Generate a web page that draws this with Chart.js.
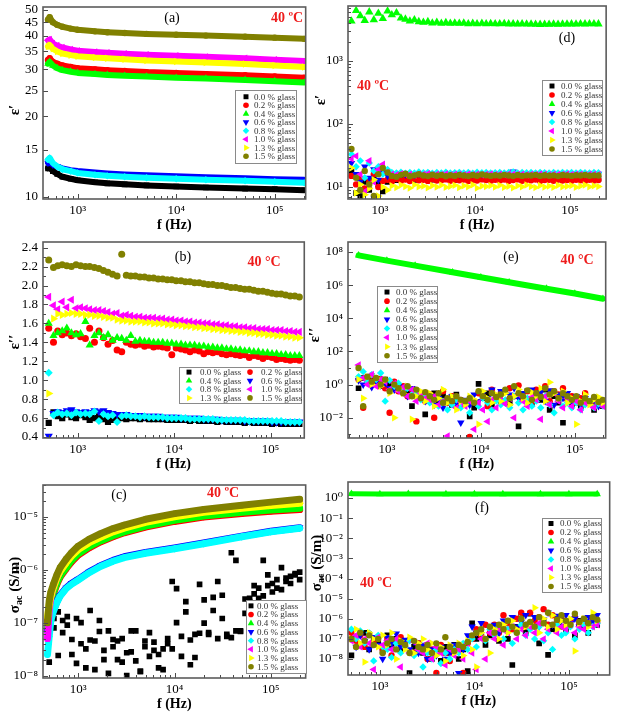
<!DOCTYPE html>
<html>
<head>
<meta charset="utf-8">
<script src="https://cdn.jsdelivr.net/npm/chart.js@4.4.1/dist/chart.umd.min.js"></script>
<style>
  body { margin: 0; background: #fff; }
  #wrap { position: relative; width: 618px; height: 714px; overflow: hidden; background: #fff; }
  canvas { position: absolute; }
</style>
</head>
<body>
<div id="wrap">
  <canvas id="pa"></canvas>
  <canvas id="pb"></canvas>
  <canvas id="pc"></canvas>
  <canvas id="pd"></canvas>
  <canvas id="pe"></canvas>
  <canvas id="pf"></canvas>
</div>
<script>
// series names (legend order)
const series = ['0.0 % glass', '0.2 % glass', '0.4 % glass', '0.6 % glass', '0.8 % glass', '1.0 % glass', '1.3 % glass', '1.5 % glass'];
const colors = ['#000000', '#ff0000', '#00ff00', '#0000ff', '#00ffff', '#ff00ff', '#ffff00', '#808000'];
const shapes = ['rect', 'circle', 'triangle', 'triangle', 'rectRot', 'triangle', 'triangle', 'circle'];
const turns = [0, 0, 0, 180, 0, 270, 90, 0];
// marker scale per shape so they look the same size
const shapeScale = { rect: 1.25, circle: 1.0, triangle: 1.35, rectRot: 1.15 };

// frequency grids (Hz)
const freq = [500, 560, 620, 690, 770, 860, 960, 1070,
  1200, 1330, 1490, 1660, 1850, 2060, 2300, 2560,
  2860, 3190, 3550, 3960, 4420, 4930, 5490, 6120,
  6830, 7610, 8490, 9460, 10500, 11800, 13100, 14600,
  16300, 18200, 20300, 22600, 25200, 28100, 31300, 34900,
  38900, 43400, 48400, 54000, 60200, 67100, 74800, 83400,
  93000, 103700, 115600, 128900, 143700, 160200, 178600, 199200];
const freqA = [500, 520, 560, 620, 700, 850, 1000, 1500, 2000, 3000, 5000, 10000, 20000, 50000, 100000, 199200];
const freqC = [480, 500, 520, 550, 600, 650, 750, 850, 1000, 1300, 1700, 2300, 3000, 5000, 10000, 20000, 50000, 100000, 199200];
const freqG = [500, 1000, 2000, 5000, 10000, 20000, 50000, 100000, 199200];

// (a) eps' on freqA
const a00 = [12.8, 12.9, 12.5, 12.2, 11.9, 11.7, 11.55, 11.35, 11.25, 11.15, 11.05, 10.95, 10.85, 10.75, 10.7, 10.6];
const a02 = [32.5, 33, 32, 31.5, 31, 30.6, 30.3, 30.0, 29.8, 29.6, 29.3, 29.1, 28.8, 28.5, 28.2, 27.9];
const a04 = [31.5, 32, 31, 30.3, 29.8, 29.4, 29.1, 28.8, 28.6, 28.4, 28.2, 27.9, 27.7, 27.4, 27.1, 26.8];
const a06 = [13.4, 13.5, 13.2, 13.0, 12.8, 12.6, 12.5, 12.35, 12.25, 12.15, 12.05, 11.95, 11.85, 11.75, 11.65, 11.6];
const a08 = [13.8, 14.0, 13.4, 13.0, 12.7, 12.5, 12.3, 12.1, 12.0, 11.9, 11.8, 11.7, 11.6, 11.5, 11.4, 11.3];
const a10 = [38.5, 38.8, 37.5, 36.8, 36.2, 35.6, 35.2, 34.8, 34.6, 34.3, 34.0, 33.7, 33.4, 33.0, 32.6, 32.2];
const a13 = [36.5, 37, 35.8, 35, 34.4, 33.9, 33.6, 33.2, 33.0, 32.7, 32.4, 32.1, 31.8, 31.4, 31.0, 30.6];
const a15 = [46, 47, 45, 44, 43.3, 42.6, 42.2, 41.6, 41.3, 41, 40.7, 40.4, 40.1, 39.7, 39.4, 39.0];

// (b) eps'' on freq
const b00 = [0.55, 0.66, 0.62, 0.6, 0.64, 0.61, 0.6, 0.63,
  0.61, 0.58, 0.6, 0.62, 0.59, 0.56, 0.58, 0.6,
  0.6, 0.59, 0.6, 0.6, 0.59, 0.6, 0.59, 0.59,
  0.59, 0.59, 0.58, 0.58, 0.58, 0.58, 0.58, 0.57,
  0.58, 0.57, 0.57, 0.57, 0.57, 0.56, 0.57, 0.56,
  0.56, 0.56, 0.56, 0.55, 0.56, 0.55, 0.55, 0.55,
  0.55, 0.54, 0.55, 0.54, 0.54, 0.54, 0.54, 0.54];
const b02 = [1.55, 1.4, 1.52, 1.48, 1.5, 1.47, 1.49, 1.46,
  1.44, 1.55, 1.4, 1.52, 1.45, 1.38, 1.42, 1.32,
  1.3, 1.4, 1.38, 1.37, 1.38, 1.36, 1.37, 1.35,
  1.36, 1.35, 1.34, 1.27, 1.34, 1.33, 1.32, 1.3,
  1.32, 1.31, 1.28, 1.3, 1.29, 1.3, 1.28, 1.27,
  1.28, 1.27, 1.26, 1.27, 1.24, 1.26, 1.25, 1.23,
  1.25, 1.24, 1.22, 1.23, 1.22, 1.21, 1.22, 1.21];
const b04 = [1.6, 1.47, 1.5, 1.52, 1.55, 1.5, 1.48, 1.49,
  1.62, 1.37, 1.47, 1.5, 1.45, 1.48, 1.42, 1.45,
  1.44, 1.42, 1.47, 1.41, 1.42, 1.41, 1.41, 1.4,
  1.4, 1.4, 1.39, 1.39, 1.38, 1.38, 1.37, 1.37,
  1.37, 1.36, 1.36, 1.35, 1.35, 1.34, 1.34, 1.33,
  1.33, 1.32, 1.32, 1.31, 1.31, 1.3, 1.3, 1.29,
  1.29, 1.28, 1.28, 1.27, 1.27, 1.26, 1.26, 1.26];
const b06 = [0.41, 0.65, 0.67, 0.66, 0.68, 0.69, 0.67, 0.66,
  0.67, 0.66, 0.68, 0.67, 0.68, 0.66, 0.65, 0.64,
  0.64, 0.64, 0.63, 0.63, 0.63, 0.62, 0.62, 0.62,
  0.62, 0.61, 0.61, 0.61, 0.61, 0.6, 0.6, 0.6,
  0.6, 0.6, 0.59, 0.59, 0.59, 0.59, 0.58, 0.58,
  0.58, 0.58, 0.58, 0.57, 0.57, 0.57, 0.57, 0.57,
  0.57, 0.56, 0.56, 0.56, 0.56, 0.56, 0.56, 0.56];
const b08 = [1.08, 0.63, 0.66, 0.64, 0.65, 0.63, 0.66, 0.64,
  0.65, 0.64, 0.67, 0.57, 0.64, 0.62, 0.63, 0.56,
  0.62, 0.63, 0.62, 0.62, 0.61, 0.62, 0.61, 0.61,
  0.61, 0.61, 0.6, 0.6, 0.6, 0.6, 0.6, 0.59,
  0.59, 0.59, 0.59, 0.59, 0.59, 0.58, 0.58, 0.58,
  0.58, 0.58, 0.58, 0.58, 0.57, 0.57, 0.57, 0.57,
  0.57, 0.57, 0.57, 0.57, 0.56, 0.56, 0.56, 0.56];
const b10 = [1.88, 1.79, 1.75, 1.83, 1.77, 1.85, 1.76, 1.77,
  1.76, 1.75, 1.74, 1.74, 1.73, 1.72, 1.7, 1.71,
  1.68, 1.69, 1.68, 1.67, 1.67, 1.66, 1.66, 1.66,
  1.65, 1.65, 1.64, 1.64, 1.63, 1.63, 1.62, 1.62,
  1.61, 1.61, 1.6, 1.6, 1.59, 1.59, 1.58, 1.58,
  1.57, 1.57, 1.56, 1.56, 1.55, 1.55, 1.54, 1.54,
  1.54, 1.53, 1.53, 1.53, 1.52, 1.52, 1.51, 1.51];
const b13 = [0.86, 1.65, 1.7, 1.69, 1.7, 1.71, 1.7, 1.7,
  1.69, 1.69, 1.68, 1.68, 1.67, 1.66, 1.66, 1.64,
  1.63, 1.63, 1.62, 1.62, 1.62, 1.61, 1.61, 1.6,
  1.6, 1.6, 1.59, 1.59, 1.58, 1.58, 1.57, 1.57,
  1.56, 1.56, 1.55, 1.55, 1.54, 1.54, 1.53, 1.53,
  1.52, 1.52, 1.51, 1.51, 1.5, 1.5, 1.49, 1.49,
  1.48, 1.48, 1.47, 1.47, 1.46, 1.46, 1.45, 1.45];
const b15 = [2.27, 2.19, 2.21, 2.22, 2.21, 2.2, 2.22, 2.21,
  2.2, 2.2, 2.19, 2.18, 2.16, 2.14, 2.12, 2.1,
  2.33, 2.11, 2.1, 2.1, 2.09, 2.09, 2.08, 2.08,
  2.07, 2.07, 2.06, 2.06, 2.05, 2.05, 2.04, 2.04,
  2.03, 2.03, 2.02, 2.01, 2.01, 2.0, 2.0, 1.99,
  1.98, 1.98, 1.97, 1.96, 1.96, 1.95, 1.94, 1.94,
  1.93, 1.92, 1.91, 1.91, 1.9, 1.89, 1.89, 1.88];

// (c) sigma_ac; 0.0 % scatter on freq (two sweeps), others on freqC
const c00a = [1.8e-8, 8e-8, 1.6e-7, 1.1e-7, 9e-8, 2.5e-8, 1.2e-7, 4e-8,
  1.4e-8, 1.7e-7, 4.5e-8, 1.1e-7, 3e-8, 7e-8, 4.8e-8, 2e-8,
  5e-8, 1e-8, 2.8e-8, 7e-8, 1.2e-8, 4.5e-8, 6.5e-8, 3e-8,
  1.4e-8, 3.2e-8, 5e-8, 6e-7, 4.4e-7, 5.5e-8, 2.5e-7, 1.6e-8,
  6e-8, 5.3e-7, 2.7e-7, 6e-8, 3e-7, 6e-7, 1.2e-7, 6e-8,
  2.1e-6, 1.5e-6, 7e-8, 2.8e-7, 2.9e-7, 5e-7, 2.9e-7, 1.5e-6,
  8e-7, 5.5e-7, 4.5e-7, 1.1e-6, 6e-7, 7.5e-7, 8.5e-7, 9e-7];
const c00b = [1.6e-7, 1.2e-7, 2.4e-8, 6.5e-8, 1.3e-7, 4.8e-8, 1.7e-8, 1.0e-7,
  3.2e-8, 4.7e-8, 1.3e-8, 6.8e-8, 2e-8, 1.1e-8, 3.5e-8, 4.5e-8,
  1.8e-8, 2.7e-8, 7e-8, 1.9e-8, 1.2e-8, 3.5e-8, 2.3e-8, 4.3e-8,
  2.5e-8, 1.3e-8, 4e-8, 3.2e-8, 1e-7, 2.3e-8, 1.6e-7, 4.7e-8,
  2.2e-8, 6.3e-8, 9.8e-8, 6.5e-8, 1.7e-7, 5e-8, 3.3e-7, 5.5e-8,
  5.2e-8, 7e-8, 6.8e-8, 1.5e-7, 2.5e-7, 3.5e-7, 4.5e-7, 3.2e-7,
  5e-7, 3.8e-7, 6.5e-7, 4.2e-7, 7e-7, 5.5e-7, 8e-7, 6.5e-7];
const c02 = [1.1e-7, 1.5e-7, 2.3e-7, 3.4e-7, 5.3e-7, 7.3e-7, 1.05e-6, 1.4e-6, 1.9e-6, 2.6e-6, 3.35e-6, 4.2e-6, 5.0e-6, 6.4e-6, 8.2e-6, 9.9e-6, 1.16e-5, 1.28e-5, 1.37e-5];
const c04 = [8e-8, 1.6e-7, 2.5e-7, 3.6e-7, 5.6e-7, 7.7e-7, 1.1e-6, 1.5e-6, 2.0e-6, 2.75e-6, 3.5e-6, 4.4e-6, 5.2e-6, 6.7e-6, 8.6e-6, 1.04e-5, 1.22e-5, 1.35e-5, 1.45e-5];
const c06 = [7e-8, 8e-8, 1.15e-7, 1.65e-7, 2.5e-7, 3.3e-7, 4.55e-7, 5.5e-7, 6.6e-7, 9.1e-7, 1.19e-6, 1.5e-6, 1.76e-6, 2.12e-6, 2.58e-6, 3.2e-6, 4.33e-6, 5.35e-6, 6.25e-6];
const c08 = [2.5e-8, 5.5e-8, 1.1e-7, 1.6e-7, 2.4e-7, 3.2e-7, 4.4e-7, 5.3e-7, 6.4e-7, 8.8e-7, 1.15e-6, 1.45e-6, 1.7e-6, 2.05e-6, 2.5e-6, 3.1e-6, 4.2e-6, 5.2e-6, 6.1e-6];
const c10 = [5e-8, 1.8e-7, 3.0e-7, 4.4e-7, 7.0e-7, 9.5e-7, 1.4e-6, 1.85e-6, 2.5e-6, 3.4e-6, 4.3e-6, 5.4e-6, 6.4e-6, 8.3e-6, 1.06e-5, 1.28e-5, 1.52e-5, 1.72e-5, 1.9e-5];
const c13 = [1.3e-7, 2.2e-7, 3.2e-7, 4.5e-7, 7.0e-7, 9.4e-7, 1.35e-6, 1.8e-6, 2.4e-6, 3.25e-6, 4.1e-6, 5.2e-6, 6.1e-6, 7.9e-6, 1.0e-5, 1.22e-5, 1.45e-5, 1.63e-5, 1.8e-5];
const c15 = [1.0e-7, 2.6e-7, 3.8e-7, 5.2e-7, 8.0e-7, 1.1e-6, 1.6e-6, 2.1e-6, 2.8e-6, 3.8e-6, 4.8e-6, 6.0e-6, 7.0e-6, 9.0e-6, 1.15e-5, 1.38e-5, 1.65e-5, 1.9e-5, 2.15e-5];

// (d) eps' on freq
const d00 = [18, 8, 7.2, 12, 9, 14, 11, 8.5,
  12, 13.5, 12.8, 13.2, 14, 13.4, 12.9, 13.6,
  13.3, 13.8, 13.1, 13.5, 13.2, 13.7, 13.4, 13.0,
  13.6, 13.3, 13.8, 13.2, 13.5, 13.4, 13.7, 13.1,
  13.5, 13.2, 13.6, 13.4, 13.3, 13.8, 13.2, 13.5,
  13.4, 13.6, 13.1, 13.5, 13.3, 13.7, 13.2, 13.4,
  13.6, 13.3, 13.5, 13.2, 13.4, 13.6, 13.3, 13.5];
const d02 = [15, 11, 13.5, 9.5, 12, 16, 10, 12.5,
  13, 12.2, 13.4, 12.6, 13.1, 12.4, 13.5, 12.8,
  13.0, 12.5, 13.3, 12.7, 12.9, 13.2, 12.6, 13.0,
  12.8, 13.1, 12.5, 13.0, 12.7, 13.2, 12.9, 12.6,
  13.0, 12.7, 13.1, 12.5, 12.9, 13.2, 12.6, 13.0,
  12.8, 13.1, 12.4, 12.9, 13.0, 12.6, 13.1, 12.7,
  12.9, 12.6, 13.0, 12.8, 12.5, 13.0, 12.7, 12.9];
const d04 = [4300, 6300, 5200, 4400, 6000, 4500, 5700, 4700,
  6200, 5400, 5800, 4800, 4600, 4300, 4500, 4200,
  4100, 4200, 4000, 4100, 3950, 4050, 3950, 4000,
  3950, 4000, 3900, 3950, 3900, 3950, 3880, 3920,
  3900, 3880, 3920, 3870, 3900, 3850, 3880, 3860,
  3850, 3820, 3800, 3830, 3810, 3850, 3820, 3840,
  3850, 3870, 3860, 3880, 3870, 3890, 3880, 3870];
const d06 = [24, 16, 12, 21, 14, 19, 13, 17,
  15, 16.2, 15.4, 16.5, 15.8, 16.1, 15.6, 16.3,
  16.0, 15.7, 16.4, 15.9, 16.2, 15.8, 16.1, 16.4,
  15.9, 16.3, 16.0, 15.8, 16.2, 16.0, 16.4, 15.9,
  16.1, 15.8, 16.3, 16.0, 17.5, 16.2, 15.9, 16.1,
  16.0, 16.3, 15.8, 16.1, 16.2, 15.9, 16.3, 16.0,
  16.2, 15.9, 16.1, 16.3, 16.0, 16.2, 15.9, 16.1];
const d08 = [33, 21, 26, 14, 24, 18, 21, 16,
  19, 17, 16.8, 17.2, 16.5, 17.0, 16.7, 17.3,
  16.9, 17.1, 16.6, 17.0, 16.8, 17.2, 16.7, 16.9,
  17.1, 16.8, 17.0, 16.6, 17.2, 16.9, 17.0, 16.7,
  16.9, 17.1, 16.8, 17.0, 17.3, 16.8, 17.0, 16.9,
  17.0, 16.8, 17.1, 16.9, 16.7, 17.0, 16.8, 17.1,
  16.9, 17.0, 16.8, 17.1, 16.9, 16.8, 17.0, 16.9];
const d10 = [28, 31, 16, 8.5, 26, 12, 19, 23,
  17, 16, 15.6, 16.2, 15.8, 16.0, 15.5, 16.1,
  15.9, 16.2, 15.7, 16.0, 15.8, 16.1, 15.6, 15.9,
  16.0, 15.7, 16.1, 15.8, 16.0, 15.6, 15.9, 16.1,
  15.8, 16.0, 15.7, 16.1, 15.9, 15.8, 16.0, 15.7,
  16.0, 15.8, 16.1, 15.9, 15.7, 16.0, 15.8, 15.9,
  16.1, 15.8, 16.0, 15.9, 15.7, 16.0, 15.9, 15.8];
const d13 = [20, 8, 11, 7.5, 9.5, 13, 7.2, 10,
  9, 10.5, 9.8, 10.8, 10.2, 9.6, 10.9, 10.1,
  10.4, 9.7, 10.6, 10.0, 10.8, 9.9, 10.3, 10.7,
  9.8, 10.5, 10.1, 10.9, 9.6, 10.4, 10.2, 10.6,
  10.0, 10.7, 9.9, 10.3, 9.7, 10.5, 10.1, 10.8,
  10.2, 9.8, 10.6, 10.0, 10.4, 9.9, 10.7, 10.1,
  10.3, 10.6, 9.9, 10.4, 10.8, 10.1, 10.5, 10.2];
const d15 = [40, 14, 9, 18, 11, 7.2, 16, 20,
  17, 15, 14.5, 15.6, 16.2, 14.8, 15.3, 15.9,
  15.2, 14.9, 15.7, 15.1, 15.5, 14.8, 15.4, 15.0,
  15.6, 15.2, 14.9, 15.5, 15.1, 15.8, 15.3, 15.0,
  15.4, 15.1, 15.6, 15.2, 14.9, 15.5, 15.0, 15.3,
  15.2, 15.6, 15.0, 15.4, 15.1, 15.3, 14.9, 15.5,
  15.3, 15.0, 15.4, 15.2, 15.5, 15.1, 15.3, 15.2];

// (e) eps''; 0.4 % on freqG, others on freq
const e04 = [6.2e7, 3.0e7, 1.5e7, 6.0e6, 3.0e6, 1.5e6, 6.1e5, 3.1e5, 1.5e5];
const e00 = [0.6, 2.5, 1.5, 3.0, 1.2, 0.8, 2.0, 1.0,
  0.9, 0.5, 0.7, 0.3, 0.05, 0.4, 0.2, 0.016,
  0.15, 0.3, 0.08, 0.2, 0.12, 0.06, 0.25, 0.1,
  0.08, 0.012, 0.04, 1.1, 0.15, 0.3, 0.06, 0.2,
  0.1, 0.35, 0.08, 0.2, 0.003, 0.15, 0.4, 0.07,
  0.25, 0.12, 0.5, 0.03, 0.2, 0.08, 0.005, 0.15,
  0.06, 0.12, 0.04, 0.1, 0.08, 0.03, 0.09, 0.05];
const e02 = [2.0, 0.04, 1.5, 3.5, 1.2, 2.2, 0.6, 0.02,
  1.5, 0.4, 0.8, 0.2, 0.5, 0.006, 0.3, 0.1,
  0.25, 0.01, 0.15, 0.4, 0.08, 0.2, 0.05, 0.12,
  0.07, 0.0007, 0.1, 0.3, 0.2, 0.05, 0.5, 0.15,
  0.3, 0.1, 0.6, 0.2, 0.9, 0.15, 0.4, 0.1,
  0.5, 0.2, 0.8, 0.1, 0.4, 0.25, 0.6, 0.12,
  0.2, 0.08, 0.15, 0.3, 0.1, 0.05, 0.12, 0.07];
const e06 = [1.8, 1.0, 2.5, 0.7, 1.5, 0.9, 1.2, 0.6,
  0.5, 0.8, 0.35, 0.2, 0.6, 0.15, 0.3, 0.1,
  0.2, 0.06, 0.15, 0.04, 0.1, 0.2, 0.07, 0.005,
  0.12, 0.06, 0.25, 0.1, 0.3, 0.15, 0.5, 0.2,
  0.4, 0.08, 0.25, 0.6, 0.15, 0.3, 0.1, 0.5,
  0.2, 0.35, 0.1, 0.45, 0.06, 0.25, 0.15, 0.3,
  0.1, 0.2, 0.06, 0.15, 0.08, 0.12, 0.05, 0.1];
const e08 = [3.0, 6.0, 1.5, 4.0, 2.0, 5.0, 0.1, 1.8,
  0.8, 1.2, 0.4, 0.6, 0.25, 0.3, 0.12, 0.2,
  0.08, 0.15, 0.05, 0.1, 0.03, 0.06, 0.12, 0.04,
  0.07, 0.02, 0.1, 0.05, 0.15, 0.08, 0.03, 0.1,
  0.06, 0.12, 0.04, 0.2, 0.08, 0.03, 0.15, 0.05,
  0.1, 0.04, 0.2, 0.06, 0.02, 0.12, 0.05, 0.08,
  0.04, 0.08, 0.03, 0.06, 0.1, 0.04, 0.07, 0.05];
const e10 = [15, 2.5, 1.0, 4.0, 0.8, 2.0, 1.5, 0.5,
  1.2, 0.4, 0.7, 0.2, 0.5, 0.1, 0.3, 0.15,
  0.12, 0.2, 0.06, 0.1, 0.0008, 0.15, 0.04, 0.09,
  0.05, 0.1, 0.002, 0.08, 0.03, 0.006, 0.12, 0.04,
  0.2, 0.07, 0.15, 0.01, 0.25, 0.1, 0.05, 0.18,
  0.12, 0.008, 0.2, 0.06, 0.3, 0.1, 0.04, 0.15,
  0.05, 0.1, 0.03, 0.08, 0.06, 0.04, 0.09, 0.05];
const e13 = [2.0, 0.15, 3.0, 1.0, 2.5, 0.8, 1.8, 0.3,
  0.01, 0.6, 0.3, 0.8, 0.008, 0.2, 0.4, 0.1,
  0.3, 0.05, 0.15, 0.5, 0.08, 0.2, 0.03, 0.1,
  0.06, 0.2, 0.12, 0.004, 0.4, 0.15, 0.08, 0.25,
  0.1, 0.3, 0.06, 0.2, 0.5, 0.15, 0.08, 0.35,
  0.2, 0.6, 0.1, 1.4, 0.3, 0.15, 0.4, 0.08,
  0.15, 0.004, 0.1, 0.25, 0.06, 0.12, 0.18, 0.08];
const e15 = [10, 0.05, 3.0, 1.5, 2.5, 1.0, 2.0, 0.4,
  1.0, 0.6, 0.3, 0.8, 0.2, 0.5, 0.15, 0.35,
  0.2, 0.12, 0.3, 0.08, 0.15, 0.1, 0.2, 0.12,
  0.1, 0.15, 0.08, 0.4, 0.2, 0.12, 0.3, 0.18,
  0.25, 0.5, 0.15, 0.8, 0.3, 0.2, 0.45, 0.12,
  0.3, 0.18, 0.6, 0.25, 0.4, 0.15, 0.3, 0.2,
  0.12, 0.2, 0.08, 0.15, 0.1, 0.18, 0.09, 0.12];

// (f) sigma_ac; 0.4 % on freqG, others on freq
const f04 = [1.62, 1.6, 1.61, 1.6, 1.59, 1.6, 1.6, 1.59, 1.6];
const f00 = [1.5e-8, 1.2e-7, 5e-8, 2e-7, 3e-8, 1e-7, 6e-8, 2.5e-8,
  1.5e-7, 5e-8, 1e-7, 3e-8, 8e-8, 2e-9, 4e-8, 6e-8,
  2e-8, 5e-8, 1e-8, 3e-8, 8e-9, 4e-8, 2e-8, 5e-8,
  1e-8, 3e-8, 2.5e-9, 6e-7, 1e-7, 2e-7, 5e-8, 1.5e-7,
  2e-7, 8e-8, 3e-7, 1e-7, 5e-9, 4e-7, 1.5e-6, 2e-7,
  1.8e-6, 5e-7, 6e-8, 8e-7, 1.6e-8, 3e-7, 1e-6, 4e-7,
  3e-7, 6e-7, 1.5e-7, 8e-7, 4e-7, 2e-7, 9e-7, 5e-7];
const f02 = [2e-7, 8e-8, 1.5e-7, 4e-8, 1.8e-7, 6e-8, 1.2e-7, 3e-8,
  1e-7, 1.5e-8, 7e-8, 1.2e-7, 4e-8, 9e-8, 2e-8, 6e-8,
  4e-8, 1e-8, 3e-8, 2e-9, 5e-8, 2e-8, 8e-9, 3e-8,
  4e-8, 2e-9, 6e-8, 1e-7, 3e-7, 1.5e-7, 5e-7, 2e-7,
  5e-7, 2e-7, 1.5e-6, 6e-7, 3e-7, 1e-6, 2e-6, 4e-7,
  2e-6, 8e-7, 1.2e-6, 3e-6, 5e-7, 1.5e-6, 7e-7, 1e-6,
  4e-7, 8e-7, 1.2e-6, 5e-7, 9e-7, 6e-7, 1e-6, 7e-7];
const f06 = [1e-7, 4e-8, 1.5e-7, 8e-8, 3e-8, 1.2e-7, 5e-8, 1e-8,
  1.2e-7, 6e-8, 1.8e-7, 4e-8, 9e-8, 3e-8, 7e-8, 2e-8,
  5e-8, 1e-8, 3e-8, 1.5e-8, 4e-8, 1e-8, 2e-8, 5e-8,
  2e-9, 3e-8, 1.5e-7, 4e-7, 2e-7, 6e-7, 1e-7, 3e-7,
  5e-7, 2e-7, 8e-7, 3e-7, 1.2e-6, 4e-7, 7e-7, 1.5e-6,
  6e-7, 1.2e-6, 4e-7, 9e-7, 2e-6, 5e-7, 1.4e-6, 8e-7,
  1.5e-6, 6e-7, 1e-6, 4e-7, 8e-7, 1.2e-6, 7e-7, 1.5e-6];
const f08 = [3e-7, 1e-7, 2.5e-7, 6e-8, 2e-7, 8e-9, 1.5e-7, 4e-8,
  3e-8, 1.2e-8, 6e-8, 2e-8, 4e-8, 8e-8, 1.5e-8, 3e-8,
  4e-9, 2e-8, 1e-8, 3e-8, 6e-9, 2e-8, 1e-8, 3e-8,
  2e-8, 6e-8, 3e-8, 1e-7, 4e-8, 2e-7, 8e-8, 3e-7,
  1.5e-7, 4e-7, 1e-7, 3e-7, 6e-8, 2e-7, 5e-7, 1.5e-7,
  3e-7, 1e-7, 4e-7, 8e-8, 2e-7, 3e-8, 5e-7, 1.5e-7,
  2e-7, 4e-7, 1e-7, 3e-7, 5e-7, 2e-7, 4e-7, 6e-7];
const f10 = [8e-8, 1.5e-7, 4e-8, 1e-7, 6e-8, 3e-9, 1.2e-7, 5e-8,
  8e-8, 3e-8, 1e-7, 4e-9, 5e-8, 2e-8, 7e-8, 3e-8,
  2e-8, 6e-8, 1e-8, 4e-8, 2e-8, 5e-9, 3e-8, 1.5e-8,
  3e-8, 1e-8, 6e-8, 2e-8, 3e-9, 1e-7, 1e-8, 2e-7,
  1e-7, 3e-7, 5e-8, 2e-7, 4e-7, 1e-7, 3e-7, 1.5e-7,
  4e-7, 2e-7, 6e-7, 1e-7, 3e-7, 5e-7, 2e-7, 4e-7,
  3e-7, 5e-7, 2e-7, 4e-7, 3e-7, 6e-7, 4e-7, 5e-7];
const f13 = [1e-7, 3e-7, 6e-8, 7e-9, 2e-7, 1e-7, 4e-8, 1.5e-7,
  5e-8, 2e-7, 1e-8, 8e-8, 3e-8, 1.2e-7, 2e-8, 6e-8,
  1e-7, 3e-8, 6e-8, 1.5e-8, 4e-8, 8e-9, 5e-8, 2e-8,
  6e-8, 1.5e-8, 8e-8, 3e-8, 4e-9, 2e-7, 1e-7, 2e-8,
  3e-7, 1e-7, 5e-7, 2e-7, 8e-7, 3e-7, 1e-6, 4e-7,
  6e-7, 3.5e-6, 2e-7, 1e-6, 4e-7, 1.5e-6, 3e-7, 8e-7,
  5e-7, 1e-6, 2.5e-8, 6e-7, 1e-6, 4e-7, 2e-6, 8e-7];
const f15 = [1e-7, 4e-8, 2e-7, 8e-8, 1.5e-7, 5e-8, 1e-7, 2e-8,
  6e-8, 1e-7, 3e-8, 7e-8, 5e-8, 2e-8, 8e-8, 4e-8,
  3e-8, 5e-8, 2e-8, 6e-8, 3e-8, 1.2e-7, 4e-8, 2.5e-8,
  5e-8, 4e-8, 7e-8, 1.5e-7, 2e-7, 3e-7, 1e-7, 4e-7,
  2e-7, 5e-7, 3e-7, 8e-7, 4e-7, 2e-7, 1e-6, 5e-7,
  7e-7, 4e-7, 1.2e-6, 6e-7, 2e-6, 5e-7, 9e-7, 1.5e-6,
  8e-7, 5e-7, 1.8e-6, 7e-7, 1e-6, 6e-7, 1.2e-6, 9e-7];

const serif = '"Liberation Serif", "Times New Roman", "DejaVu Serif", serif';
const tickFont = { family: serif, size: 13 };
const supMap = { '-': '⁻', '0': '⁰', '1': '¹', '2': '²', '3': '³', '4': '⁴', '5': '⁵', '6': '⁶', '7': '⁷', '8': '⁸', '9': '⁹' };
const sup = e => '10' + String(e).split('').map(c => supMap[c]).join('');

function logTicks(lo, hi, every, minors) {
  const out = [];
  for (let e = Math.floor(Math.log10(lo)); e <= Math.ceil(Math.log10(hi)); e++) {
    for (let m = 1; m < 10; m++) {
      if (m > 1 && !minors) break;
      const v = m * Math.pow(10, e);
      if (v < lo || v > hi) continue;
      out.push({ value: v, lab: (m === 1 && e % every === 0) ? sup(e) : '' });
    }
  }
  return out;
}

function ds(i, xs, ys, band, size) {
  const r = (size || 3.2) * shapeScale[shapes[i]];
  return {
    label: series[i],
    data: ys.map((y, k) => ({ x: xs[k], y: y })),
    backgroundColor: colors[i],
    borderColor: colors[i],
    pointStyle: shapes[i],
    pointRotation: turns[i],
    pointRadius: r,
    pointBorderWidth: 0,
    showLine: !!band,
    borderWidth: band || 0,
    borderJoinStyle: 'round',
    borderCapStyle: 'round',
    order: 7 - i
  };
}

const decos = {};

function drawMark(ctx, i, x, y, r) {
  ctx.fillStyle = colors[i];
  Chart.helpers.drawPoint(ctx, { pointStyle: shapes[i], rotation: turns[i], radius: r * shapeScale[shapes[i]], borderWidth: 0 }, x, y);
}

const decoPlugin = {
  id: 'deco',
  afterDatasetsDraw(chart) {
    const { ctx, chartArea: a, scales } = chart;
    ctx.save();
    ctx.strokeStyle = '#4a4a4a';
    ctx.lineWidth = 1;
    ctx.beginPath();
    scales.x.ticks.forEach(t => {
      const px = Math.round(scales.x.getPixelForValue(t.value)) + 0.5;
      const len = t.lab ? 5 : 3;
      ctx.moveTo(px, a.bottom);
      ctx.lineTo(px, a.bottom - len);
    });
    scales.y.ticks.forEach(t => {
      const py = Math.round(scales.y.getPixelForValue(t.value)) + 0.5;
      const len = t.lab ? 5 : 3;
      ctx.moveTo(a.left, py);
      ctx.lineTo(a.left + len, py);
    });
    ctx.stroke();
    ctx.lineWidth = 1.6;
    ctx.strokeStyle = '#5c5c5c';
    ctx.strokeRect(a.left, a.top, a.right - a.left, a.bottom - a.top);
    ctx.restore();
  },
  afterDraw(chart) {
    const d = decos[chart.canvas.id];
    if (!d) return;
    const { ctx } = chart;
    ctx.save();
    // y-axis title
    ctx.translate(d.yt[0] - d.ox, d.yt[1] - d.oy);
    ctx.rotate(-Math.PI / 2);
    ctx.fillStyle = '#000';
    ctx.textBaseline = 'middle';
    if (d.sigma) {
      const big = 'bold 15px ' + serif, small = 'bold 10px ' + serif;
      ctx.font = big; const w1 = ctx.measureText('σ').width;
      ctx.font = small; const w2 = ctx.measureText('ac').width;
      ctx.font = big; const w3 = ctx.measureText(' (S/m)').width;
      let x = -(w1 + w2 + w3) / 2;
      ctx.textAlign = 'left';
      ctx.font = big; ctx.fillText('σ', x, 0); x += w1;
      ctx.font = small; ctx.fillText('ac', x, 4); x += w2;
      ctx.font = big; ctx.fillText(' (S/m)', x, 0);
    } else {
      ctx.textAlign = 'center';
      ctx.font = 'bold 15px ' + serif;
      ctx.fillText(d.ytitle, 0, 0);
    }
    ctx.restore();

    // legend box
    const L = d.legend;
    ctx.save();
    const lx = L.x - d.ox, ly = L.y - d.oy;
    ctx.fillStyle = '#fff';
    ctx.fillRect(lx, ly, L.w, L.h);
    ctx.strokeStyle = '#8a8a8a';
    ctx.lineWidth = 1;
    ctx.strokeRect(lx + 0.5, ly + 0.5, L.w, L.h);
    ctx.font = '9px ' + serif;
    ctx.textBaseline = 'middle';
    ctx.textAlign = 'left';
    series.forEach((s, i) => {
      const r = L.cols === 1 ? i : Math.floor(i / L.cols);
      const c = L.cols === 1 ? 0 : i % L.cols;
      const yy = ly + L.pad + (r + 0.5) * L.row;
      const xx = lx + c * L.colW;
      drawMark(ctx, i, xx + L.mx, yy, 2.8);
      ctx.fillStyle = '#333';
      ctx.fillText(s, xx + L.tx, yy + 0.5);
    });
    ctx.restore();

    // panel letter and temperature
    ctx.save();
    ctx.textAlign = 'center';
    ctx.textBaseline = 'middle';
    d.texts.forEach(t => {
      ctx.font = t.font;
      ctx.fillStyle = t.color;
      ctx.fillText(t.text, t.x - d.ox, t.y - d.oy);
    });
    ctx.restore();
  }
};

function panel(id, cx, plot, xr, yr, yLog, yTicks, sets, deco) {
  const cv = document.getElementById(id);
  const cy = plot.t - 20;
  cv.width = plot.r + 3 - cx;
  cv.height = 20 + (plot.b - plot.t) + 36;
  cv.style.left = cx + 'px';
  cv.style.top = cy + 'px';
  decos[id] = Object.assign({ ox: cx, oy: cy }, deco);
  return new Chart(cv, {
    type: 'scatter',
    data: { datasets: sets },
    options: {
      responsive: false,
      animation: false,
      devicePixelRatio: 1,
      events: [],
      layout: { padding: { top: 20, right: 3, left: 0, bottom: 0 } },
      plugins: { legend: { display: false }, tooltip: { enabled: false } },
      scales: {
        x: {
          type: 'logarithmic', min: xr[0], max: xr[1],
          grid: { display: false, drawTicks: false },
          border: { display: false },
          afterBuildTicks: s => { s.ticks = logTicks(xr[0], xr[1], 1, true); },
          afterFit: s => { s.height = 36; },
          ticks: { autoSkip: false, maxRotation: 0, minRotation: 0, padding: 4, color: '#000', font: tickFont,
            callback: (v, i, t) => t[i].lab },
          title: { display: true, text: 'f (Hz)', color: '#000', font: { family: serif, size: 14, weight: 'bold' },
            padding: { top: 0, bottom: 1 } }
        },
        y: {
          type: yLog ? 'logarithmic' : 'linear', min: yr[0], max: yr[1],
          grid: { display: false, drawTicks: false },
          border: { display: false },
          afterBuildTicks: s => { s.ticks = yTicks.map(t => Object.assign({}, t)); },
          afterFit: s => { s.width = plot.l - cx; },
          ticks: { autoSkip: false, padding: 5, color: '#000', font: tickFont,
            callback: (v, i, t) => t[i].lab }
        }
      }
    },
    plugins: [decoPlugin]
  });
}

const red = '#ee1c1c';
const lblFont = '14px ' + serif;
const tempFont = 'bold 14px ' + serif;

// (a)
panel('pa', 0, { l: 43, t: 7, r: 307, b: 199 }, [445, 2.06e5], [9.83, 51.3], true,
  [10, 15, 20, 25, 30, 35, 40, 45, 50].map(v => ({ value: v, lab: String(v) })),
  [ds(0, freqA, a00, 6), ds(1, freqA, a02, 6), ds(2, freqA, a04, 6), ds(3, freqA, a06, 6),
   ds(4, freqA, a08, 6), ds(5, freqA, a10, 6), ds(6, freqA, a13, 6), ds(7, freqA, a15, 6)],
  { yt: [15, 110], ytitle: 'ε′',
    legend: { x: 235, y: 90, w: 61, h: 73, cols: 1, row: 8.5, pad: 2.5, colW: 0, mx: 11, tx: 19 },
    texts: [{ text: '(a)', x: 172, y: 18, font: lblFont, color: '#000' },
            { text: '40 ºC', x: 287, y: 18, font: tempFont, color: red }] });

// (b)
const bTicks = [];
for (let k = 4; k <= 24; k++) bTicks.push({ value: k / 10, lab: k % 2 === 0 ? (k / 10).toFixed(1) : '' });
panel('pb', 0, { l: 43, t: 242, r: 306, b: 438 }, [436, 2.24e5], [0.39, 2.46], false, bTicks,
  [ds(0, freq, b00, 0, 3.5), ds(1, freq, b02, 0, 3.5), ds(2, freq, b04, 0, 3.5), ds(3, freq, b06, 0, 3.5),
   ds(4, freq, b08, 0, 3.5), ds(5, freq, b10, 0, 3.5), ds(6, freq, b13, 0, 3.5), ds(7, freq, b15, 0, 3.5)],
  { yt: [15, 342], ytitle: 'ε′′',
    legend: { x: 179, y: 367, w: 122, h: 36, cols: 2, row: 8.6, pad: 0.8, colW: 61, mx: 10, tx: 21 },
    texts: [{ text: '(b)', x: 183, y: 257, font: lblFont, color: '#000' },
            { text: '40 °C', x: 264, y: 262, font: tempFont, color: red }] });

// (c)
panel('pc', 0, { l: 43, t: 485, r: 307, b: 678 }, [431, 2.3e5], [9.2e-9, 4.0e-5], true,
  logTicks(9.2e-9, 4.0e-5, 1, true),
  [ds(0, freq.concat(freq), c00a.concat(c00b)), ds(1, freqC, c02, 7), ds(2, freqC, c04, 7), ds(3, freqC, c06, 7),
   ds(4, freqC, c08, 7), ds(5, freqC, c10, 7), ds(6, freqC, c13, 7), ds(7, freqC, c15, 7)],
  { yt: [15, 585], sigma: true,
    legend: { x: 246, y: 600, w: 60, h: 73, cols: 1, row: 8.7, pad: 1.5, colW: 0, mx: 5, tx: 11 },
    texts: [{ text: '(c)', x: 119, y: 495, font: lblFont, color: '#000' },
            { text: '40 ºC', x: 223, y: 493, font: tempFont, color: red }] });

// (d)
panel('pd', 300, { l: 348, t: 6, r: 608, b: 199 }, [460, 2.4e5], [6.45, 7460], true,
  logTicks(6.45, 7460, 1, true),
  [ds(0, freq, d00), ds(1, freq, d02), ds(2, freq, d04, 0, 3.6), ds(3, freq, d06),
   ds(4, freq, d08), ds(5, freq, d10), ds(6, freq, d13), ds(7, freq, d15)],
  { yt: [321, 100], ytitle: 'ε′',
    legend: { x: 542, y: 80, w: 60, h: 75, cols: 1, row: 9, pad: 1.5, colW: 0, mx: 10, tx: 19 },
    texts: [{ text: '(d)', x: 567, y: 38, font: lblFont, color: '#000' },
            { text: '40 ºC', x: 373, y: 86, font: tempFont, color: red }] });

// (e)
panel('pe', 300, { l: 348, t: 242, r: 607, b: 438 }, [386, 2.13e5], [6.3e-4, 4e8], true,
  logTicks(6.3e-4, 4e8, 2, false),
  [ds(0, freq, e00), ds(1, freq, e02), ds(2, freqG, e04, 6), ds(3, freq, e06),
   ds(4, freq, e08), ds(5, freq, e10), ds(6, freq, e13), ds(7, freq, e15)],
  { yt: [315, 335], ytitle: 'ε′′',
    legend: { x: 377, y: 286, w: 60, h: 76, cols: 1, row: 9.1, pad: 1.5, colW: 0, mx: 10, tx: 19 },
    texts: [{ text: '(e)', x: 511, y: 257, font: lblFont, color: '#000' },
            { text: '40 °C', x: 577, y: 260, font: tempFont, color: red }] });

// (f)
panel('pf', 300, { l: 348, t: 482, r: 611, b: 675 }, [460, 2.7e5], [1.6e-9, 6.3], true,
  logTicks(1.6e-9, 6.3, 1, false),
  [ds(0, freq, f00), ds(1, freq, f02), ds(2, freqG, f04, 5), ds(3, freq, f06),
   ds(4, freq, f08), ds(5, freq, f10), ds(6, freq, f13), ds(7, freq, f15)],
  { yt: [317, 563], sigma: true,
    legend: { x: 542, y: 518, w: 59, h: 74, cols: 1, row: 9, pad: 1, colW: 0, mx: 9, tx: 18 },
    texts: [{ text: '(f)', x: 482, y: 508, font: lblFont, color: '#000' },
            { text: '40 ºC', x: 376, y: 583, font: tempFont, color: red }] });
</script>
</body>
</html>
